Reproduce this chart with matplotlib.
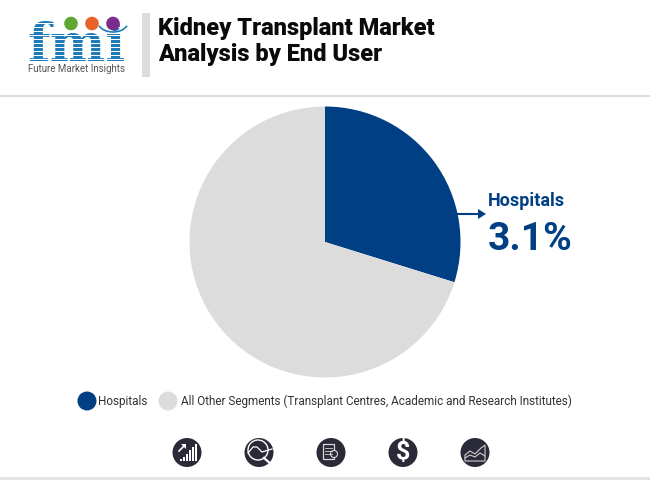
import matplotlib
matplotlib.use("Agg")
import matplotlib.pyplot as plt
from matplotlib.patches import Circle, Rectangle, Polygon, Arc

segments = ["Hospitals", "All Other Segments (Transplant Centres, Academic and Research Institutes)"]
shares = [29.8, 70.2]
colors = ["#003f84", "#dcdcdc"]
title_lines = ["Kidney Transplant Market", "Analysis by End User"]
callout_label = "Hospitals"
callout_value = "3.1%"

W, H = 650, 480
DARK = "#2a2a38"
fig = plt.figure(figsize=(W / 100, H / 100), dpi=100, facecolor="white")
bg = fig.add_axes([0, 0, 1, 1])
bg.set_xlim(0, W); bg.set_ylim(H, 0); bg.axis("off")

# pie
cx, cy, r = 325, 242, 135.5
pa = fig.add_axes([(cx - r) / W, 1 - (cy + r) / H, 2 * r / W, 2 * r / H])
pa.pie(shares, colors=colors, startangle=90, counterclock=False, radius=1)
pa.set_xlim(-1, 1); pa.set_ylim(-1, 1); pa.axis("off")

# header
bg.add_patch(Rectangle((142, 13), 8, 64, color="#dcdcdc", lw=0))
bg.add_patch(Rectangle((0, 94.5), W, 2, color="#dcdcdc", lw=0))
bg.add_patch(Rectangle((0, 477), W, 3, color="#e4e4e4", lw=0))
for line, y in zip(title_lines, [29, 54]):
    bg.text(158, y, line, family="Roboto", weight=900, fontsize=17.0, color="#0a0a0a", va="center", ha="left")

# logo
BLUE = "#1f7ab8"
bg.text(76.5, 61, "fmi", family="DejaVu Serif", weight="bold", fontsize=38, color=BLUE,
        ha="center", va="baseline")
for y in range(23, 62, 4):
    bg.add_patch(Rectangle((20, y), 115, 1.0, color="white", lw=0, zorder=5))
for x, c in zip([71, 92, 113], ["#5ea832", "#e8632a", "#7b2d8e"]):
    bg.add_patch(Circle((x, 23.5), 6.8, color=c, lw=0, zorder=6))
bg.add_patch(Arc((113, 22), 30, 20, theta1=15, theta2=165, color=BLUE, lw=1.2, zorder=6))
bg.text(76, 68.5, "Future Market Insights", family="Roboto", fontsize=7.0, color="#555555", ha="center", va="center", zorder=7)

# callout
bg.plot([457, 478], [214, 214], color="#003f84", lw=1.5)
bg.add_patch(Polygon([[478, 209], [486, 214], [478, 219]], color="#003f84", lw=0))
bg.text(488, 201, callout_label, family="Roboto", weight="bold", fontsize=13, color="#003f84", va="center", ha="left")
bg.text(488, 240, callout_value, family="Roboto", weight="bold", fontsize=28, color="#003f84", va="center", ha="left")

# legend
bg.add_patch(Circle((87, 401), 9.5, color=colors[0], lw=0))
bg.text(98, 401.5, segments[0], family="Roboto", fontsize=8.5, color="#333333", va="center", ha="left")
bg.add_patch(Circle((168, 401), 9.5, color=colors[1], lw=0))
bg.text(181, 401.5, segments[1], family="Roboto", fontsize=8.5, color="#333333", va="center", ha="left")

# icons
iy = 452.5
for ix in [187, 259, 331, 403, 475]:
    bg.add_patch(Circle((ix, iy), 14.5, color=DARK, lw=0))
# 1: bars with arrow
for dx, h in zip([-7, -4, -1, 2, 5, 8], [2, 4, 7, 11, 14, 17]):
    bg.add_patch(Rectangle((187 + dx, iy + 8 - h), 1.6, h, color="white", lw=0))
bg.plot([179, 184], [451, 446], color="white", lw=1.2)
bg.add_patch(Polygon([[181, 444], [186, 444], [186, 449]], color="white", lw=0))
# 2: magnifier with wave
bg.add_patch(Circle((258, 450), 10, fill=False, ec="white", lw=1))
bg.plot([248, 253, 257, 262, 272], [453, 447, 447, 452, 449], color="white", lw=0.9)
bg.plot([264, 272], [458, 465], color="white", lw=1.6)
# 3: document
bg.add_patch(Rectangle((323, 444), 11, 15, fill=False, ec="#d8d8d8", lw=0.9))
for y in [448, 451, 454]:
    bg.plot([325, 332], [y, y], color="#d8d8d8", lw=0.6)
bg.add_patch(Circle((334, 454), 3.5, facecolor=DARK, ec="#d8d8d8", lw=0.8))
# 4: dollar
bg.text(403, 452, "$", family="Roboto", weight="bold", fontsize=18, color="white", ha="center", va="center")
# 5: area chart
bg.add_patch(Polygon([[465, 461], [465, 455], [470, 451], [475, 454], [481, 448], [485, 445], [485, 461]],
                     fill=False, ec="#cfcfcf", lw=0.8))
bg.plot([465, 470, 475, 480, 485], [458, 455, 457, 453, 456], color="#cfcfcf", lw=0.8)

fig.savefig("out.png", dpi=100, facecolor="white")
